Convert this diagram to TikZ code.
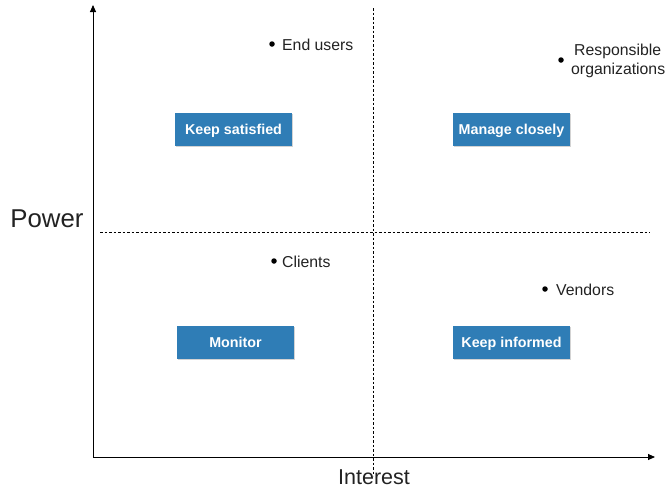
\documentclass[tikz,border=0pt]{standalone}
\usepackage{fontspec}
\setmainfont{Liberation Sans}
\usetikzlibrary{arrows.meta,shadows}
\definecolor{boxblue}{HTML}{2F7DB6}
\definecolor{txtgray}{HTML}{222222}
\tikzset{
  axis/.style={line width=0.9pt,-{Triangle[length=7pt,width=6pt]}},
  divider/.style={dashed,line width=0.7pt,dash pattern=on 2.5pt off 2pt},
  action/.style={fill=boxblue,text=white,font=\bfseries\fontsize{14.3}{16}\selectfont,
    minimum width=117pt,minimum height=33pt,inner sep=0pt,
    text height=10.5pt,text depth=0pt,
    drop shadow={shadow xshift=0.8pt,shadow yshift=-0.8pt,opacity=0.35}},
  party/.style={circle,fill=black,inner sep=0pt,minimum size=5.5pt},
  plabel/.style={anchor=west,text=txtgray,font=\fontsize{15.8}{19}\selectfont,inner sep=0pt},
}
\begin{document}
\begin{tikzpicture}[x=1pt,y=-1pt]
\useasboundingbox (0,0) rectangle (667,488);
% axes
\coordinate (origin) at (93,457);
\coordinate (ytip) at (93,5);
\coordinate (xtip) at (655,457);
\draw[axis] (origin) -- (ytip);
\draw[axis] (origin) -- (xtip);
% quadrant dividers
\coordinate (vtop) at (373,8);
\coordinate (vbot) at (373,476);
\coordinate (hleft) at (100,232);
\coordinate (hright) at (650,232);
\draw[divider] (vtop) -- (vbot);
\draw[divider] (hleft) -- (hright);
% axis titles
\node[text=txtgray,font=\fontsize{25.8}{30}\selectfont] (power) at (47,219) {Power};
\node[text=txtgray,font=\fontsize{21.5}{25}\selectfont] (interest) at (374,477) {Interest};
% strategy boxes
\node[action] (satisfied) at (233.5,129.5) {Keep satisfied};
\node[action] (manage) at (511.5,129.5) {Manage closely};
\node[action] (monitor) at (235.5,342.5) {Monitor};
\node[action] (informed) at (511.5,342.5) {Keep informed};
% stakeholders
\node[party] (enduser) at (272,44) {};
\node[plabel] (enduserl) at (282,45) {End users};
\node[party] (resp) at (561,60) {};
\node[plabel,align=left] (respl) at (571,61) {\hspace*{3pt}Responsible\\organizations};
\node[party] (client) at (274,261) {};
\node[plabel] (clientl) at (282,262) {Clients};
\node[party] (vendor) at (545,289) {};
\node[plabel] (vendorl) at (556,290) {Vendors};
\end{tikzpicture}
\end{document}
